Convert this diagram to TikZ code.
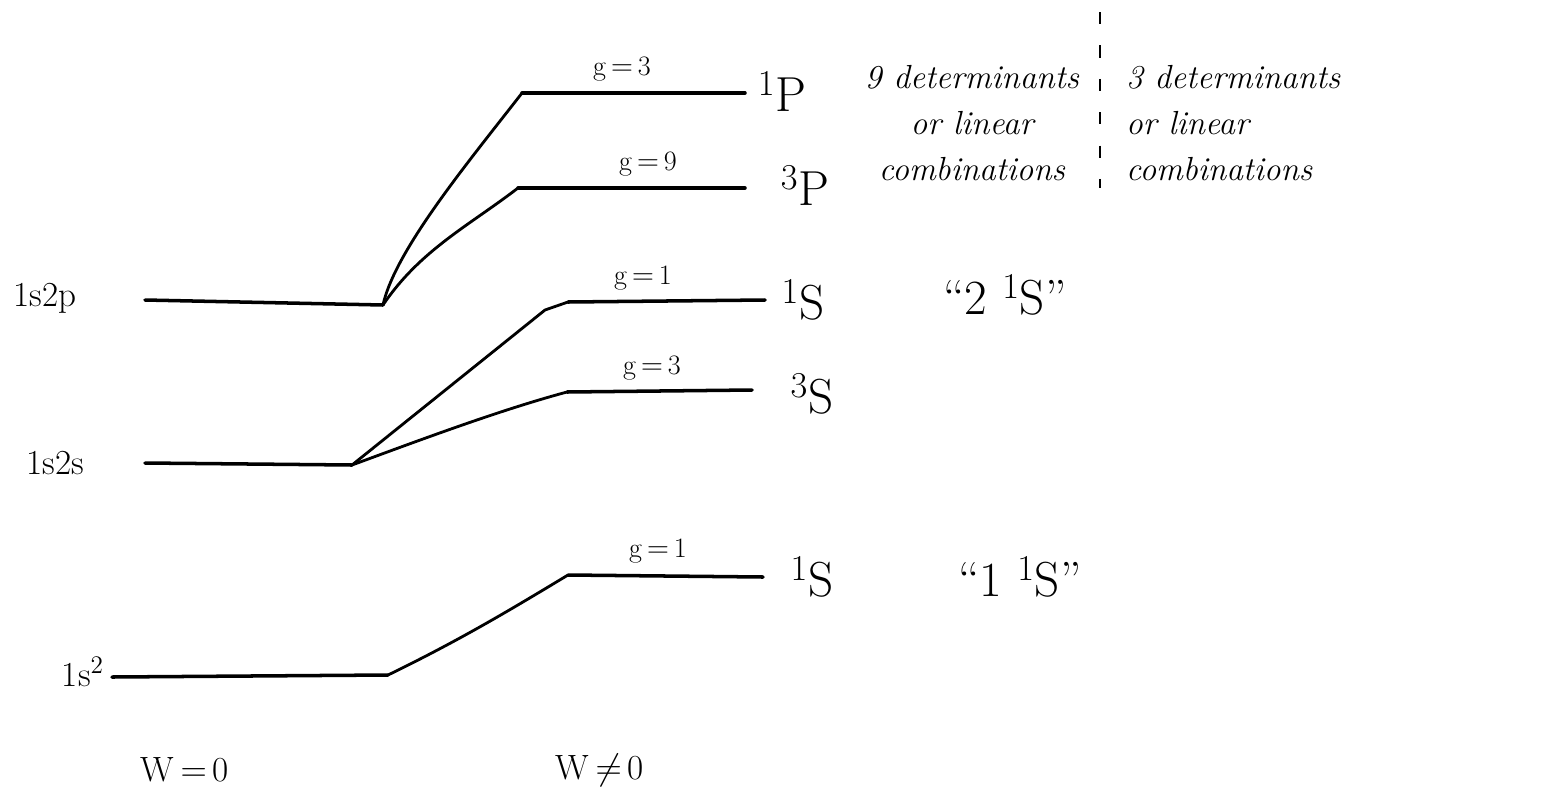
\documentclass[tikz,border=0pt]{standalone}
\usepackage{fontspec}
\usepackage{tikz}
\usetikzlibrary{positioning}

\begin{document}
\begin{tikzpicture}[x=0.02cm,y=-0.02cm,
  lvl/.style={line width=2pt,line cap=round},
  cn/.style={line width=1.6pt,line cap=round},
  conf/.style={font=\fontsize{20}{22}\selectfont,inner sep=1pt},
  term/.style={font=\fontsize{28}{30}\selectfont,inner sep=1pt},
  deg/.style={font=\fontsize{16}{18}\selectfont,inner sep=1pt},
  note/.style={font=\fontsize{19}{26}\selectfont\itshape,inner sep=1pt}]
  \useasboundingbox (0,0) rectangle (1547,788);
  % levels, W = 0
  \coordinate (pL) at (145,300); \coordinate (pR) at (383,305);
  \coordinate (sL) at (145,463); \coordinate (sR) at (352,465);
  \coordinate (gL) at (112,677); \coordinate (gR) at (388,675);
  % levels, W =/= 0
  \coordinate (aL) at (522,93);  \coordinate (aR) at (745,93);
  \coordinate (bL) at (518,188); \coordinate (bR) at (745,188);
  \coordinate (cL) at (568,302); \coordinate (cR) at (765,300);
  \coordinate (dL) at (567,392); \coordinate (dR) at (752,390);
  \coordinate (eL) at (568,575); \coordinate (eR) at (763,577);
  \foreach \l in {p,s,g,a,b,c,d,e} \draw[lvl] (\l L) -- (\l R);
  % splitting
  \draw[cn] (pR) .. controls (395,250) and (470,160) .. (aL);
  \draw[cn] (pR) .. controls (420,250) and (470,225) .. (bL);
  \draw[cn] (sR) -- (545,310) -- (cL);
  \draw[cn] (sR) .. controls (420,440) and (500,410) .. (dL);
  \draw[cn] (gR) .. controls (460,640) and (510,610) .. (eL);
  % labels
  \node[conf] (n1) at (45,298) {1s2p};
  \node[conf] (n2) at (55,463) {1s2s};
  \node[conf,anchor=east] (n3) at (106,672) {1s$^2$};
  \node[deg,above=2mm of aL,xshift=2cm] (g1) {g$\,=\,$3};
  \node[deg,above=2mm of bL,xshift=2.6cm] (g2) {g$\,=\,$9};
  \node[deg,above=2mm of cL,xshift=1.5cm] (g3) {g$\,=\,$1};
  \node[deg,above=2mm of dL,xshift=1.7cm] (g4) {g$\,=\,$3};
  \node[deg,above=2mm of eL,xshift=1.8cm] (g5) {g$\,=\,$1};
  \node[term] (t1) at (782,92)  {$^1$P};
  \node[term] (t2) at (805,186) {$^3$P};
  \node[term] (t3) at (803,300) {$^1$S};
  \node[term] (t4) at (812,394) {$^3$S};
  \node[term] (t5) at (812,577) {$^1$S};
  \node[term] (q2) at (1005,295) {``2 $^1$S''};
  \node[term] (q1) at (1020,577) {``1 $^1$S''};
  \node[note,align=center] (m1) at (972,123) {9 determinants\\or linear\\combinations};
  \node[note,align=left,anchor=west] (m2) at (1124,123) {3 determinants\\or linear\\combinations};
  \coordinate (vT) at (1100,12); \coordinate (vB) at (1100,188);
  \draw[line width=1.4pt,dash pattern=on 7pt off 12pt] (vT) -- (vB);
  \node[conf] (w1) at (185,770) {W$\,=\,$0};
  \node[conf] (w2) at (600,770) {W$\,\neq\,$0};
\end{tikzpicture}
\end{document}
